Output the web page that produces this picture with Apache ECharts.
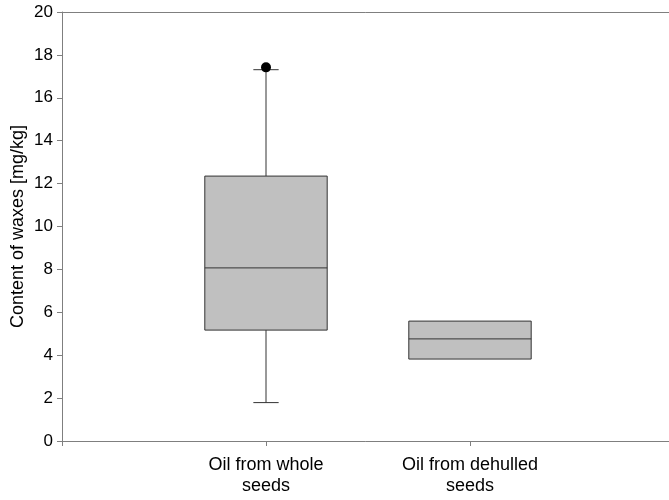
<!DOCTYPE html>
<html><head><meta charset="utf-8">
<script src="https://cdn.jsdelivr.net/npm/echarts@6/dist/echarts.min.js"></script>
<style>html,body{margin:0;padding:0;background:#fff}#c{width:669px;height:500px}</style>
</head><body><div id="c"></div>
<script>
const categories = ['', 'Oil from whole\nseeds', 'Oil from dehulled\nseeds', ''];
// [min, Q1, median, Q3, max]
const wholeSeeds = [1.79, 5.17, 8.07, 12.35, 17.31];
const dehulledSeeds = [3.82, 3.82, 4.76, 5.59, 5.59];
const outliers = [[1, 17.42]];
const yTicks = [0, 2, 4, 6, 8, 10, 12, 14, 16, 18, 20];

const boxData = [[1].concat(wholeSeeds), [2].concat(dehulledSeeds)];

const chart = echarts.init(document.getElementById('c'), null, {renderer: 'canvas'});
const font = '"Liberation Sans", Arial, sans-serif';
chart.setOption({
  animation: false,
  grid: {left: 62, top: 12, width: 612, bottom: 59, show: false, outerBoundsMode: 'none', containLabel: false},
  xAxis: [{
    type: 'category', data: categories, boundaryGap: false,
    axisLine: {lineStyle: {color: '#7f7f7f', width: 1}},
    axisTick: {length: 5, lineStyle: {color: '#7f7f7f'}},
    axisLabel: {color: '#000', fontSize: 18, fontFamily: font, margin: 14, lineHeight: 21, interval: 0},
    splitLine: {show: false}
  }, {
    type: 'category', data: categories, boundaryGap: false, position: 'top',
    axisLine: {show: true, lineStyle: {color: '#7f7f7f', width: 1}},
    axisTick: {show: false}, axisLabel: {show: false}, splitLine: {show: false}
  }],
  yAxis: {
    type: 'value', min: yTicks[0], max: yTicks[yTicks.length - 1], interval: 2,
    name: 'Content of waxes [mg/kg]', nameLocation: 'middle', nameRotate: 90, nameGap: 35,
    nameMoveOverlap: false,
    nameTextStyle: {color: '#000', fontSize: 18, fontFamily: font},
    axisLine: {show: true, lineStyle: {color: '#7f7f7f', width: 1}},
    axisTick: {show: true, length: 5, lineStyle: {color: '#7f7f7f'}},
    axisLabel: {color: '#000', fontSize: 17, fontFamily: font, margin: 9},
    splitLine: {show: false}
  },
  series: [{
    type: 'custom',
    data: boxData,
    encode: {x: 0, y: [1, 2, 3, 4, 5]},
    renderItem: function (params, api) {
      const x = api.value(0);
      const pMin = api.coord([x, api.value(1)]);
      const pQ1 = api.coord([x, api.value(2)]);
      const pMed = api.coord([x, api.value(3)]);
      const pQ3 = api.coord([x, api.value(4)]);
      const pMax = api.coord([x, api.value(5)]);
      const band = api.size([1, 0])[0];
      const hw = band * 0.3;
      const cw = band * 0.062;
      const cx = pMed[0];
      const ls = {stroke: '#333', lineWidth: 1, fill: null};
      const children = [];
      if (pMax[1] < pQ3[1]) {
        children.push({type: 'line', shape: {x1: cx, y1: pQ3[1], x2: cx, y2: pMax[1]}, style: ls});
        children.push({type: 'line', shape: {x1: cx - cw, y1: pMax[1], x2: cx + cw, y2: pMax[1]}, style: ls});
      }
      if (pMin[1] > pQ1[1]) {
        children.push({type: 'line', shape: {x1: cx, y1: pQ1[1], x2: cx, y2: pMin[1]}, style: ls});
        children.push({type: 'line', shape: {x1: cx - cw, y1: pMin[1], x2: cx + cw, y2: pMin[1]}, style: ls});
      }
      children.push({type: 'rect', shape: {x: cx - hw, y: pQ3[1], width: hw * 2, height: pQ1[1] - pQ3[1]}, style: {fill: '#c0c0c0', stroke: '#333', lineWidth: 1}});
      children.push({type: 'line', shape: {x1: cx - hw, y1: pMed[1], x2: cx + hw, y2: pMed[1]}, style: ls});
      return {type: 'group', children: children};
    }
  }, {
    type: 'scatter',
    data: outliers,
    symbol: 'circle', symbolSize: 10,
    itemStyle: {color: '#000', opacity: 1},
    z: 5
  }]
});
</script></body></html>
